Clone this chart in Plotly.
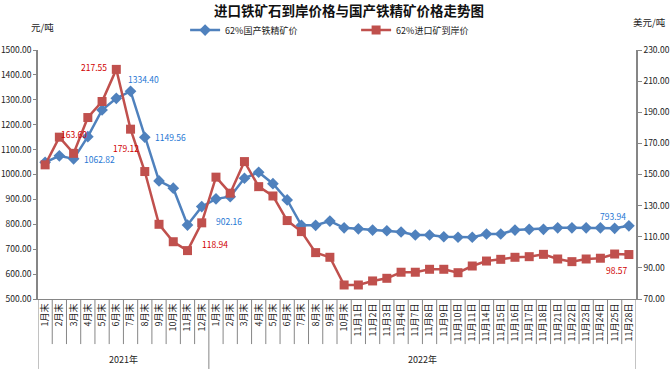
import plotly.graph_objects as go

title = "进口铁矿石到岸价格与国产铁精矿价格走势图"
years = ["2021年", "2022年"]
labels_2021 = ["1月末", "2月末", "3月末", "4月末", "5月末", "6月末", "7月末", "8月末",
               "9月末", "10月末", "11月末", "12月末"]
labels_2022 = ["1月末", "2月末", "3月末", "4月末", "5月末", "6月末", "7月末", "8月末",
               "9月末", "10月末",
               "11月1日", "11月2日", "11月3日", "11月4日", "11月7日", "11月8日", "11月9日",
               "11月10日", "11月11日", "11月14日", "11月15日", "11月16日", "11月17日",
               "11月18日", "11月21日", "11月22日", "11月23日", "11月24日", "11月25日", "11月28日"]

domestic = [1049, 1075, 1062.82, 1152, 1259, 1306, 1334.40, 1149.56, 974, 945, 797, 871,
            902.16, 911, 985, 1009, 963, 898, 796, 796, 813, 786,
            782, 777, 774, 769, 757, 757, 750, 748, 748, 761, 761, 777, 780, 780,
            786, 786, 786, 786, 784, 793.94]
imported = [156.2, 174, 163.60, 186.6, 196.9, 217.55, 179.12, 151.9, 118, 106.8, 101.1, 118.94,
            148.3, 138, 158.3, 142.2, 136.2, 120.4, 113.3, 99.8, 96.8, 79,
            79, 81.6, 83.3, 87.2, 87.2, 89.1, 89.1, 86.9, 91.2, 94.4, 95.5, 96.8, 97.2, 98.7,
            95.7, 94, 95.7, 96.2, 98.9, 98.57]

name_dom = "62%国产铁精矿价"
name_imp = "62%进口矿到岸价"

# labelled points: (index, xshift, yshift)
dom_labels = [(2, 26, 0), (6, 13, 12), (7, 26, 0), (12, 13, -22), (41, -16, 10)]
imp_labels = [(2, 0, 19), (5, -22, 2), (6, -5, -19), (11, 13, -21), (41, -12, -15)]

labels = labels_2021 + labels_2022
xs = list(range(len(labels)))
FONT = "Noto Sans CJK SC"
BLUE = "#4F81BD"
RED = "#C0504D"
AXC = "#868686"

fig = go.Figure()
fig.add_trace(go.Scatter(x=xs, y=domestic, name=name_dom, mode="lines+markers",
                         line=dict(color=BLUE, width=2.5),
                         marker=dict(symbol="diamond", size=9, color=BLUE)))
fig.add_trace(go.Scatter(x=xs, y=imported, name=name_imp, mode="lines+markers", yaxis="y2",
                         line=dict(color=RED, width=2.5),
                         marker=dict(symbol="square", size=9, color=RED)))

ann = []
for i, dx, dy in dom_labels:
    ann.append(dict(x=i, y=domestic[i], xref="x", yref="y", text=f"{domestic[i]:.2f}",
                    showarrow=False, xshift=dx, yshift=dy,
                    font=dict(family=FONT, size=8.5, color="#1F77D4")))
for i, dx, dy in imp_labels:
    ann.append(dict(x=i, y=imported[i], xref="x", yref="y2", text=f"{imported[i]:.2f}",
                    showarrow=False, xshift=dx, yshift=dy,
                    font=dict(family=FONT, size=8.5, color="#D00000")))
# year group labels
n1 = len(labels_2021)
ann.append(dict(x=(n1 - 1) / 2, y=-0.241, xref="x", yref="paper", text=years[0], showarrow=False,
                xanchor="center", yanchor="middle", font=dict(family=FONT, size=9, color="#222")))
ann.append(dict(x=n1 + (len(labels_2022) - 1) / 2, y=-0.241, xref="x", yref="paper", text=years[1],
                showarrow=False, xanchor="center", yanchor="middle",
                font=dict(family=FONT, size=9, color="#222")))
ann.append(dict(x=0.007, y=1.092, xref="paper", yref="paper", text="元/吨", showarrow=False,
                xanchor="center", yanchor="middle", font=dict(family=FONT, size=9.5, color="#222")))
ann.append(dict(x=1.023, y=1.112, xref="paper", yref="paper", text="美元/吨", showarrow=False,
                xanchor="center", yanchor="middle", font=dict(family=FONT, size=9.5, color="#222")))

shapes = []
for i in range(len(labels) + 1):
    full = i in (0, n1, len(labels))
    shapes.append(dict(type="line", xref="x", yref="paper", x0=i - 0.5, x1=i - 0.5,
                       y0=0, y1=-0.281 if full else -0.181,
                       line=dict(color=AXC, width=1)))

fig.update_layout(
    template="none",
    width=672, height=369,
    margin=dict(l=38, r=36, t=50, b=70, autoexpand=False),
    paper_bgcolor="white", plot_bgcolor="white",
    title=dict(text=f"<b>{title}</b>", x=349 / 672, xanchor="center", y=1 - 11 / 369,
               yanchor="middle", font=dict(family=FONT, size=13.5, color="#111")),
    font=dict(family=FONT, size=9, color="#222"),
    showlegend=True,
    legend=dict(orientation="h", x=0.246, xanchor="left", y=1.08, yanchor="middle",
                font=dict(family=FONT, size=9, color="#222"),
                entrywidth=126, entrywidthmode="pixels", itemwidth=30,
                bgcolor="rgba(0,0,0,0)"),
    xaxis=dict(range=[-0.5, len(labels) - 0.5], tickmode="array", tickvals=xs, ticktext=labels,
               tickangle=-90, ticks="", showline=True, linecolor=AXC, linewidth=1,
               showgrid=False, zeroline=False, automargin=False,
               tickfont=dict(family=FONT, size=9, color="#222")),
    yaxis=dict(range=[500, 1500], dtick=100, tick0=500, tickformat=".2f", ticks="outside",
               ticklen=3, tickcolor=AXC, showline=True, linecolor=AXC, linewidth=1.5,
               showgrid=False, zeroline=False, automargin=False,
               tickfont=dict(family=FONT, size=8.5, color="#222")),
    yaxis2=dict(range=[70, 230], dtick=20, tick0=70, tickformat=".2f", overlaying="y",
                side="right", ticks="outside", ticklen=4, tickcolor=AXC, showline=True,
                linecolor=AXC, linewidth=1.5, showgrid=False, zeroline=False, automargin=False,
                tickfont=dict(family=FONT, size=8.5, color="#222")),
    annotations=ann,
    shapes=shapes,
)

fig.write_html("out.html", config={"displayModeBar": False},
               post_script="document.body.style.margin='0';")
